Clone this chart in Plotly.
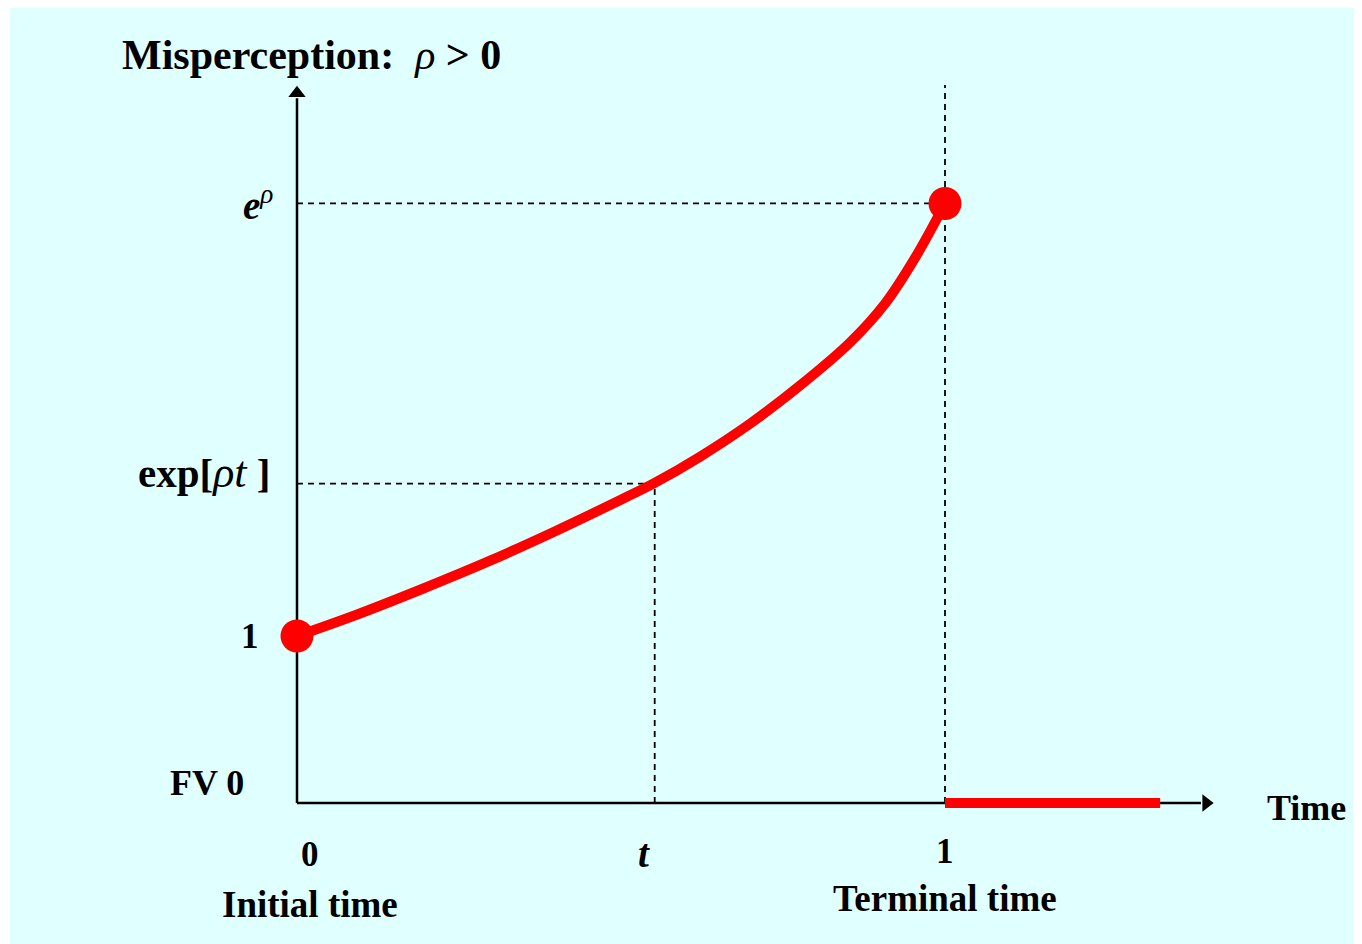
import plotly.graph_objects as go

# ---- data ----
curve_t = [0.0, 0.093, 0.194, 0.298, 0.401, 0.503, 0.552, 0.622, 0.699, 0.776,
           0.853, 0.907, 0.954, 1.0]
curve_v = [1.0, 1.129, 1.283, 1.451, 1.632, 1.822, 1.917, 2.074, 2.271, 2.499,
           2.756, 2.988, 3.266, 3.590]
t_mark = 0.552
v_t = 1.912
v_end = 3.590
terminal_t = [1.0, 1.332]
terminal_v = [0.0, 0.0]
x_axis_end = 1.395
y_axis_end = 4.22

FONT = "Liberation Serif"
OFF = 8                       # page body margin
W, H = 1362 - OFF, 944 - OFF
X0_PX, PX_PER_X = 297 - OFF, 648
Y0_PX, PX_PER_Y = 803 - OFF, 167
x_range = [-X0_PX / PX_PER_X, (W - X0_PX) / PX_PER_X]
y_range = [-(H - Y0_PX) / PX_PER_Y, Y0_PX / PX_PER_Y]


def px(x_ref):
    return (x_ref - OFF) / W


def py(y_ref):
    return 1 - (y_ref - OFF) / H


fig = go.Figure()

# dashed guide lines
dash = dict(color="black", width=1.8, dash="6px,5px")
fig.add_trace(go.Scatter(x=[0, 1], y=[v_end, v_end], mode="lines", line=dash))
fig.add_trace(go.Scatter(x=[1, 1], y=[0, 4.3], mode="lines", line=dash))
fig.add_trace(go.Scatter(x=[0, t_mark], y=[v_t, v_t], mode="lines", line=dash))
fig.add_trace(go.Scatter(x=[t_mark, t_mark], y=[0, v_t], mode="lines", line=dash))

# axes
axis_line = dict(color="black", width=2.5)
fig.add_trace(go.Scatter(x=[0, 0], y=[0, y_axis_end], mode="lines", line=axis_line))
fig.add_trace(go.Scatter(x=[0, x_axis_end], y=[0, 0], mode="lines", line=axis_line))
fig.add_trace(go.Scatter(x=[0], y=[y_axis_end + 0.03], mode="markers",
                         marker=dict(symbol="triangle-up", size=15, color="black")))
fig.add_trace(go.Scatter(x=[x_axis_end + 0.008], y=[0], mode="markers",
                         marker=dict(symbol="triangle-right", size=15, color="black")))

# curve
fig.add_trace(go.Scatter(x=curve_t, y=curve_v, mode="lines",
                         line=dict(color="#FF0000", width=10, shape="spline", smoothing=1.0)))
fig.add_trace(go.Scatter(x=terminal_t, y=terminal_v, mode="lines",
                         line=dict(color="#FF0000", width=10)))
fig.add_trace(go.Scatter(x=[curve_t[0], curve_t[-1]], y=[curve_v[0], curve_v[-1]],
                         mode="markers", marker=dict(color="#FF0000", size=33)))

annotations = []


def txt(text, x, y, size=36, xanchor="center", yanchor="middle", xref="x", yref="y"):
    annotations.append(dict(text=text, x=x, y=y, xref=xref, yref=yref, showarrow=False,
                            xanchor=xanchor, yanchor=yanchor,
                            font=dict(family=FONT, size=size, color="black")))


txt("<b>Misperception:</b>  <i>ρ</i> <b>&gt; 0</b>", px(120), py(55), size=42,
    xanchor="left", xref="paper", yref="paper")
txt("<b><i>e</i></b><sup><i>ρ</i></sup>", px(275), v_end, size=39, xanchor="right", xref="paper")
txt("<b>exp[</b><i><span style='font-size:44px'>ρt</span></i> <b>]</b>", px(272), v_t + 0.07,
    size=41, xanchor="right", xref="paper")
txt("<b>1</b>", px(250), 1.0, size=35, xref="paper")
txt("<b>FV 0</b>", px(207), 0.12, size=36, xref="paper")
txt("<b>0</b>", 0.02, -0.31, size=35)
txt("<b><i>t</i></b>", t_mark - 0.017, -0.30, size=39)
txt("<b>1</b>", 1.0, -0.29, size=35)
txt("<b>Initial time</b>", 0.02, -0.61, size=37)
txt("<b>Terminal time</b>", 1.0, -0.57, size=37)
txt("<b>Time</b>", px(1306), -0.03, size=36, xref="paper")

fig.update_layout(
    width=W, height=H,
    margin=dict(l=0, r=0, t=0, b=0),
    paper_bgcolor="white", plot_bgcolor="rgba(0,0,0,0)",
    showlegend=False,
    xaxis=dict(range=x_range, visible=False, fixedrange=True),
    yaxis=dict(range=y_range, visible=False, fixedrange=True),
    annotations=annotations,
    shapes=[dict(type="rect", xref="paper", yref="paper", x0=px(10), x1=1, y0=0, y1=1,
                 fillcolor="#E0FFFF", line=dict(width=0), layer="below")],
    hovermode=False,
)

fig.write_html("out.html")
